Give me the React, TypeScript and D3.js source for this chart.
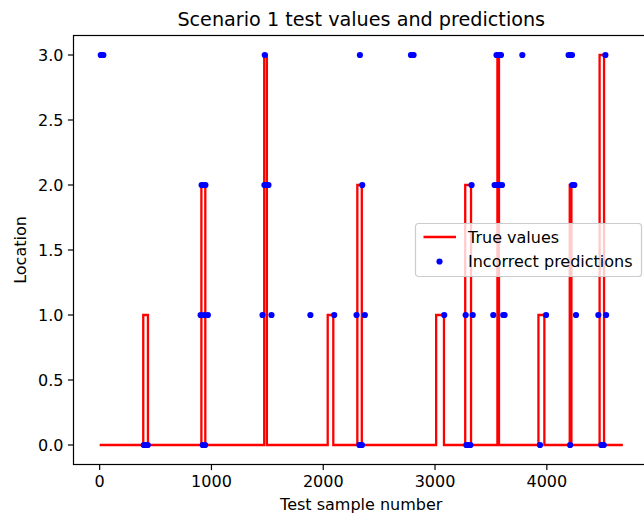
import React from "react";
import * as d3 from "d3";

// Ground-truth location: 0 everywhere except these pulses
const sampleCount = 4680;
const pulseStart = [390, 910, 1472, 2040, 2305, 3010, 3270, 3558, 3925, 4205, 4472];
const pulseEnd = [432, 945, 1496, 2090, 2345, 3080, 3322, 3572, 3978, 4220, 4512];
const pulseLevel = [1, 2, 3, 1, 2, 1, 2, 3, 1, 2, 3];

// Misclassified samples: index and predicted location
const wrongIndex = [
  10, 22, 33, 1477, 2328, 2785, 2797, 2808, 3550, 3565, 3578, 3590, 3781, 4195, 4210, 4225, 4524,
  912, 930, 946, 1474, 1486, 1498, 1510, 2349, 3327, 3533, 3555, 3577, 3599, 4228, 4246,
  903, 935, 968, 1457, 1537, 1885, 2098, 2298, 2372, 3082, 3274, 3337, 3521, 3610, 3622, 3993, 4261, 4461, 4530,
  395, 412, 430, 922, 943, 2324, 2335, 2346, 3280, 3298, 3316, 3939, 4208, 4488, 4498, 4509,
];
const wrongPrediction = [
  3, 3, 3, 3, 3, 3, 3, 3, 3, 3, 3, 3, 3, 3, 3, 3, 3,
  2, 2, 2, 2, 2, 2, 2, 2, 2, 2, 2, 2, 2, 2, 2,
  1, 1, 1, 1, 1, 1, 1, 1, 1, 1, 1, 1, 1, 1, 1, 1, 1, 1, 1,
  0, 0, 0, 0, 0, 0, 0, 0, 0, 0, 0, 0, 0, 0, 0, 0,
];

const xTicks = [0, 1000, 2000, 3000, 4000];
const yTicks = [0, 0.5, 1, 1.5, 2, 2.5, 3];

const W = 644;
const H = 516;
const left = 73.5;
const right = 649;
const top = 35.5;
const bottom = 464.5;
const FONT = "DejaVu Sans, sans-serif";

export default function App() {
  const x = d3
    .scaleLinear()
    .domain([-0.05 * sampleCount, 1.05 * sampleCount])
    .range([left, right]);
  const y = d3.scaleLinear().domain([-0.15, 3.15]).range([bottom, top]);

  // Step outline of the true values
  const truePts: [number, number][] = [[0, 0]];
  pulseStart.forEach((s, i) => {
    truePts.push([s, 0], [s, pulseLevel[i]], [pulseEnd[i], pulseLevel[i]], [pulseEnd[i], 0]);
  });
  truePts.push([sampleCount, 0]);
  const linePath = d3
    .line<[number, number]>()
    .x((d) => x(d[0]))
    .y((d) => y(d[1]))(truePts);

  const cx = (left + right) / 2;
  const legendX = 415.5;
  const legendY = 223.5;

  return (
    <svg
      width={W}
      height={H}
      style={{ position: "absolute", left: 0, top: 0, background: "#fff" }}
      fontFamily={FONT}
    >
      <rect x={0} y={0} width={W} height={H} fill="#fff" />
      <path d={linePath || ""} fill="none" stroke="#ff0000" strokeWidth={2.3} strokeLinejoin="miter" />
      {wrongIndex.map((v, i) => (
        <circle key={i} cx={x(v)} cy={y(wrongPrediction[i])} r={3.1} fill="#0000ff" />
      ))}

      {/* axes frame */}
      <rect x={left} y={top} width={right - left} height={bottom - top} fill="none" stroke="#000" strokeWidth={1.2} />

      {/* x axis */}
      {xTicks.map((t) => (
        <g key={t} transform={`translate(${x(t)},${bottom})`}>
          <line y1={0} y2={5.6} stroke="#000" strokeWidth={1.2} />
          <text y={22.5} textAnchor="middle" fontSize={16} fill="#000">
            {t}
          </text>
        </g>
      ))}
      {/* y axis */}
      {yTicks.map((t) => (
        <g key={t} transform={`translate(${left},${y(t)})`}>
          <line x1={0} x2={-5.6} stroke="#000" strokeWidth={1.2} />
          <text x={-10} dy="0.35em" textAnchor="end" fontSize={16} fill="#000">
            {t.toFixed(1)}
          </text>
        </g>
      ))}

      <text x={cx} y={26} textAnchor="middle" fontSize={19.2} fill="#000">
        Scenario 1 test values and predictions
      </text>
      <text x={cx} y={510} textAnchor="middle" fontSize={16} fill="#000">
        Test sample number
      </text>
      <text transform={`translate(26,${(top + bottom) / 2}) rotate(-90)`} textAnchor="middle" fontSize={16} fill="#000">
        Location
      </text>

      {/* legend */}
      <g transform={`translate(${legendX},${legendY})`}>
        <rect x={0} y={0} width={226} height={53} rx={3} fill="rgba(255,255,255,0.8)" stroke="#cccccc" strokeWidth={1.2} />
        <line x1={8} x2={40.5} y1={13.5} y2={13.5} stroke="#ff0000" strokeWidth={2.3} />
        <text x={52.5} y={13.5} dy="0.35em" fontSize={16} fill="#000">
          True values
        </text>
        <circle cx={24} cy={38} r={3.1} fill="#0000ff" />
        <text x={52.5} y={38} dy="0.35em" fontSize={16} fill="#000">
          Incorrect predictions
        </text>
      </g>
    </svg>
  );
}
